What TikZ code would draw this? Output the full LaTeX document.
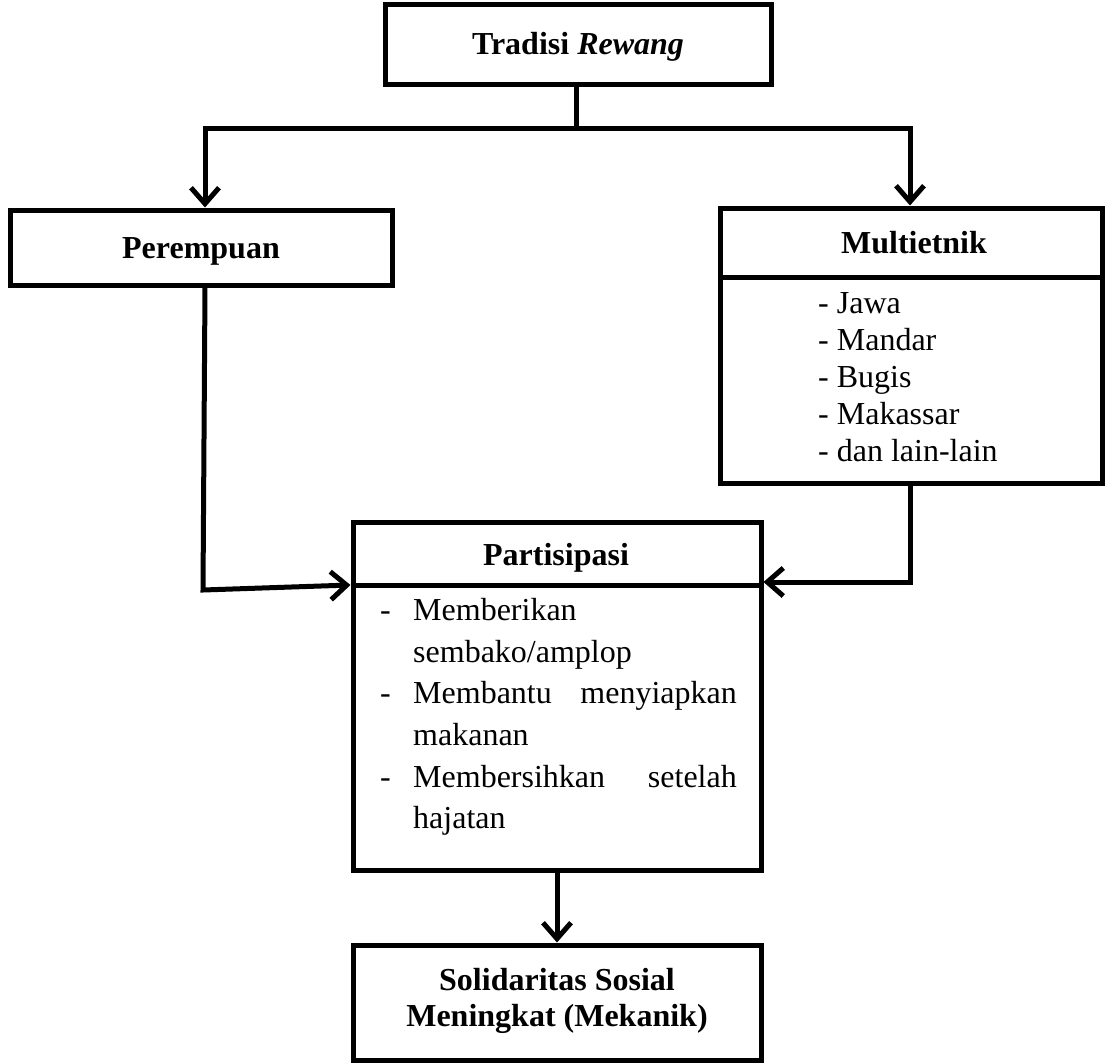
\documentclass[tikz,border=0pt]{standalone}
\usepackage{fontspec}
\setmainfont{Liberation Serif}
\usetikzlibrary{arrows.meta,calc}
\begin{document}
\begin{tikzpicture}[x=1pt,y=-1pt,
  box/.style={draw, line width=5pt, inner sep=0pt, rectangle},
  ln/.style={line width=5pt, line join=miter},
  arr/.style={line width=5pt, line join=miter, -{Straight Barb[length=16pt,width=28pt,line width=5pt]}},
  hd/.style={font=\fontsize{32}{38}\selectfont\bfseries, inner sep=0pt},
  tx/.style={font=\fontsize{32}{38}\selectfont, anchor=base west, inner sep=0pt},
  txr/.style={font=\fontsize{32}{38}\selectfont, anchor=base east, inner sep=0pt}]
\useasboundingbox (0,0) rectangle (1109,1063);

% boxes
\node[box, minimum width=386pt, minimum height=80pt] (top) at (578,44) {};
\node[hd, anchor=base] (toptx) at (578,54) {Tradisi \textit{Rewang}};

\node[box, minimum width=382pt, minimum height=75pt] (per) at (201,247.5) {};
\node[hd, anchor=base] (pertx) at (201,258) {Perempuan};

\node[box, minimum width=382pt, minimum height=275pt] (mul) at (911.5,345.5) {};
\node[hd, anchor=base] (multx) at (914,253) {Multietnik};
\draw[ln] (mul.west |- 0,277) coordinate (mdl) -- (mul.east |- 0,277) coordinate (mdr);
\node[tx] (m1) at (818,313) {- Jawa};
\node[tx] (m2) at (818,350) {- Mandar};
\node[tx] (m3) at (818,387) {- Bugis};
\node[tx] (m4) at (818,424) {- Makassar};
\node[tx] (m5) at (818,461) {- dan lain-lain};

\node[box, minimum width=408pt, minimum height=348pt] (part) at (557,696) {};
\node[hd, anchor=base] (parttx) at (556,565) {Partisipasi};
\draw[ln] (part.west |- 0,585) coordinate (pdl) -- (part.east |- 0,585) coordinate (pdr);
\node[tx] (d1) at (380,620) {-};
\node[tx] (p1) at (413,620) {Memberikan};
\node[tx] (p2) at (413,662) {sembako/amplop};
\node[tx] (d2) at (380,703) {-};
\node[tx] (p3) at (413,703) {Membantu};
\node[txr] (p3b) at (737,703) {menyiapkan};
\node[tx] (p4) at (413,745) {makanan};
\node[tx] (d3) at (380,787) {-};
\node[tx] (p5) at (413,787) {Membersihkan};
\node[txr] (p5b) at (737,787) {setelah};
\node[tx] (p6) at (413,828) {hajatan};

\node[box, minimum width=408pt, minimum height=115pt] (sol) at (557,1002.5) {};
\node[hd, anchor=base] (sol1) at (557,990) {Solidaritas Sosial};
\node[hd, anchor=base] (sol2) at (557,1026) {Meningkat (Mekanik)};

% connectors
\coordinate (j) at (576,128);
\coordinate (jl) at (205,128);
\coordinate (jr) at (910,128);
\draw[arr] (top.south -| j) -- (j) -- (jl) -- (jl |- per.north);
\draw[arr] (j) -- (jr) -- (jr |- mul.north);

\coordinate (lb) at (203,590);
\draw[arr] (per.south -| 205,0) -- (lb) -- (pdl);
\coordinate (rb) at (910,582);
\draw[arr] (mul.south -| rb) -- (rb) -- (part.east |- rb);
\draw[arr] (part.south -| 557,0) -- (sol.north -| 557,0);
\end{tikzpicture}
\end{document}
